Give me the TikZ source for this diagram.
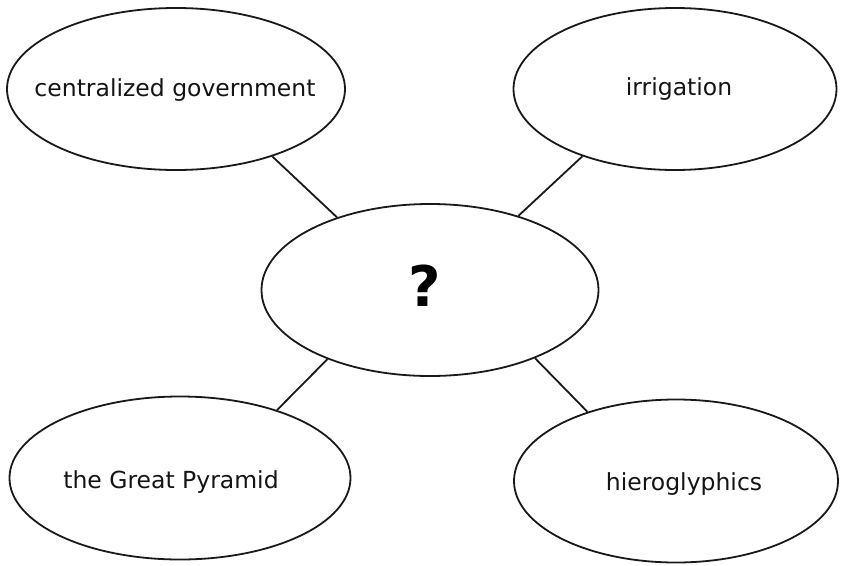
\documentclass[tikz,border=0pt]{standalone}
\usepackage{fontspec}
\setmainfont{DejaVu Sans}
\usetikzlibrary{shapes.geometric}
\begin{document}
\begin{tikzpicture}[x=1pt,y=-1pt,
  bubble/.style={draw=black!90, line width=1.8pt, ellipse, inner sep=0pt},
  word/.style={anchor=base, inner sep=0pt, text=black!92,
    font=\fontsize{23.5pt}{28pt}\selectfont},
  link/.style={draw=black!90, line width=1.8pt}]
\useasboundingbox (0,0) rectangle (843,565);

% ellipses
\node[bubble, minimum width=338pt, minimum height=162pt] (tl) at (176,89) {};
\node[bubble, minimum width=323pt, minimum height=162pt] (tr) at (675,89) {};
\node[bubble, minimum width=337pt, minimum height=172pt] (c)  at (430,290) {};
\node[bubble, minimum width=341pt, minimum height=163pt] (bl) at (180,478) {};
\node[bubble, minimum width=324pt, minimum height=163pt] (br) at (676,481) {};

% labels
\node[word] (tlt) at (175,96) {centralized government};
\node[word] (trt) at (679,95) {irrigation};
\node[word] (blt) at (171,488) {the Great Pyramid};
\node[word] (brt) at (684,490) {hieroglyphics};
\node[anchor=base, inner sep=0pt, font=\fontsize{56pt}{60pt}\bfseries\selectfont] (q) at (425,306) {?};

% connectors
\draw[link] (tl.-35) -- (c.142);
\draw[link] (tr.-144) -- (c.40);
\draw[link] (c.214) -- (bl.35);
\draw[link] (c.-33) -- (br.142);
\end{tikzpicture}
\end{document}
